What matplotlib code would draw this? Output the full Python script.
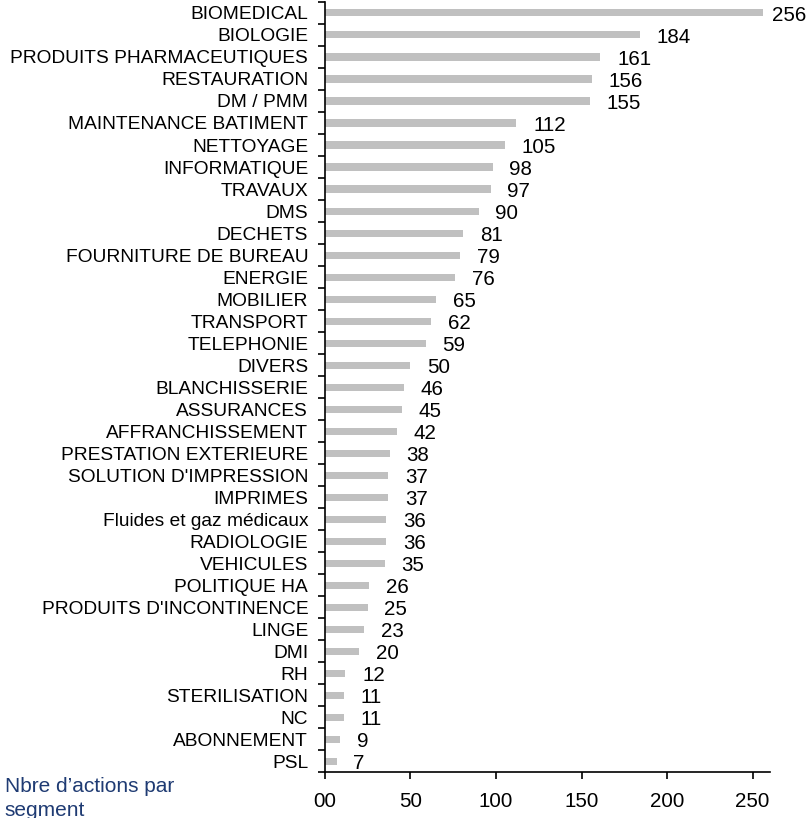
import matplotlib
matplotlib.use("Agg")
import matplotlib.pyplot as plt
from matplotlib.ticker import FixedLocator

plt.rcParams['font.family'] = ['Liberation Sans', 'DejaVu Sans']

segments = ["BIOMEDICAL", "BIOLOGIE", "PRODUITS PHARMACEUTIQUES", "RESTAURATION",
            "DM / PMM", "MAINTENANCE BATIMENT", "NETTOYAGE", "INFORMATIQUE",
            "TRAVAUX", "DMS", "DECHETS", "FOURNITURE DE BUREAU", "ENERGIE",
            "MOBILIER", "TRANSPORT", "TELEPHONIE", "DIVERS", "BLANCHISSERIE",
            "ASSURANCES", "AFFRANCHISSEMENT", "PRESTATION EXTERIEURE",
            "SOLUTION D'IMPRESSION", "IMPRIMES", "Fluides et gaz médicaux",
            "RADIOLOGIE", "VEHICULES", "POLITIQUE HA", "PRODUITS D'INCONTINENCE",
            "LINGE", "DMI", "RH", "STERILISATION", "NC", "ABONNEMENT", "PSL"]
actions = [256, 184, 161, 156, 155, 112, 105, 98, 97, 90, 81, 79, 76, 65, 62,
           59, 50, 46, 45, 42, 38, 37, 37, 36, 36, 35, 26, 25, 23, 20, 12, 11,
           11, 9, 7]
xticks = [0, 50, 100, 150, 200, 250]
xtick_labels = ["00", "50", "100", "150", "200", "250"]

fig = plt.figure(figsize=(8.12, 8.18), dpi=100)
ax = fig.add_axes([0.400, 0.056, 0.548, 0.9416])

n = len(segments)
ypos = list(range(n))
ax.barh(ypos, actions, height=0.32, color="#C0C0C0")

ax.set_ylim(n - 0.5, -0.5)
ax.set_xlim(0, 260)
ax.set_yticks(ypos)
ax.set_yticklabels(segments, fontsize=13.8)
ax.tick_params(axis="y", which="major", length=0, pad=12)
ax.yaxis.set_minor_locator(FixedLocator([i - 0.5 for i in range(n + 1)]))
ax.tick_params(axis="y", which="minor", length=5, width=1.2, direction="out")

ax.set_xticks(xticks)
ax.set_xticklabels(xtick_labels, fontsize=14.8)
ax.tick_params(axis="x", length=5, width=1.2, direction="out", pad=9)

for side in ["top", "right"]:
    ax.spines[side].set_visible(False)
for side in ["left", "bottom"]:
    ax.spines[side].set_linewidth(1.2)

# value labels outside bar end, pulled back if they would leave the figure
renderer = fig.canvas.get_renderer()
fig_w = fig.get_figwidth() * fig.dpi
for y, v in zip(ypos, actions):
    t = ax.annotate(str(v), xy=(v, y), xytext=(12, -1.5), textcoords="offset points",
                    ha="left", va="center", fontsize=14.8, color="black")
    bb = t.get_window_extent(renderer)
    if bb.x1 > fig_w - 6:
        shift = (bb.x1 - (fig_w - 6)) * 72 / fig.dpi
        t.set_position((12 - shift, -1.5))

fig.text(0.006, 0.050, "Nbre d\u2019actions par\nsegment", fontsize=15,
         color="#1F3B73", ha="left", va="top", linespacing=1.3)

fig.savefig("out.png", dpi=100)
